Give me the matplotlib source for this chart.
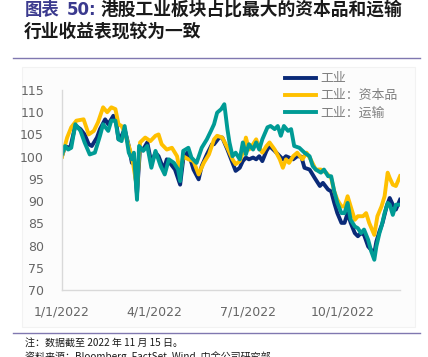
import datetime as dt
import matplotlib
matplotlib.use("Agg")
import matplotlib.pyplot as plt
from matplotlib.patches import Rectangle

plt.rcParams['font.family'] = ['Noto Sans CJK SC', 'DejaVu Sans']

start = dt.date(2022, 1, 1)

# day offsets from 2022-01-01 and index values
days_ind = [0, 3, 8, 13, 18, 22, 26, 29, 34, 37, 42, 45, 50, 53, 55, 58, 61, 65, 68, 70, 73, 76, 79, 83, 87, 91, 94, 99, 102, 105, 110, 115, 118, 122, 125, 128, 133, 136, 141, 146, 148,
            153, 156, 161, 166, 169, 173, 176, 179, 182, 186, 189, 192, 195, 199, 202, 207, 212, 215, 218, 221, 225, 229, 233, 236, 241, 246, 251, 254, 259, 262, 265, 268, 272, 275, 278, 281, 285, 288, 291, 294, 298, 301, 304, 306, 309, 312, 316, 319, 322, 325, 329]
vals_ind = [100.1, 102.3, 102.0, 107.0, 106.2, 105.0, 102.8, 102.4, 104.3, 106.2, 108.4, 107.3, 109.2, 107.3, 103.9, 104.7, 106.2, 102.4, 98.6, 100.1, 91.5, 102.0, 101.6, 103.2, 98.6, 100.9, 100.1, 97.1, 99.4, 98.6, 97.1, 93.7, 99.4, 100.9, 99.4, 97.1, 94.9, 97.9, 100.5, 102.8, 102.8,
            104.3, 104.3, 101.6, 98.6, 96.8, 97.5, 99.0, 99.8, 99.4, 99.8, 99.4, 100.1, 99.0, 101.3, 102.4, 101.3, 100.1, 99.4, 100.1, 99.8, 99.4, 100.1, 100.0, 97.5, 97.1, 95.2, 93.4, 94.1, 92.6, 92.2, 89.6, 87.3, 85.1, 85.1, 87.3, 85.1, 82.8, 82.1, 82.8, 82.4, 79.8, 79.0, 78.3, 80.9, 83.2, 85.1, 88.8, 90.7, 89.2, 88.1, 90.3]

days_cap = [0, 5, 9, 14, 21, 26, 31, 35, 40, 44, 48, 52, 55, 58, 61, 65, 68, 73, 76, 81, 86, 91, 94, 97, 102, 107, 112, 115, 118, 123, 128, 133, 138, 143, 148,
            151, 156, 161, 166, 169, 173, 176, 179, 182, 186, 189, 192, 195, 199, 202, 207, 212, 215, 218, 221, 225, 229, 234, 238, 242, 247, 252, 257, 262, 265, 268, 272, 275, 278, 281, 285, 288, 293, 296, 299, 304, 307, 311, 314, 317, 319, 322, 325, 329]
vals_cap = [100.0, 104.3, 106.6, 108.1, 108.4, 105.0, 105.8, 107.7, 111.1, 110.0, 111.1, 110.7, 107.3, 106.9, 105.4, 102.4, 100.1, 93.0, 103.2, 104.3, 103.5, 104.7, 105.0, 102.8, 101.6, 102.0, 100.1, 96.4, 100.1, 99.4, 99.0, 96.0, 98.6, 100.5, 103.9,
            104.7, 104.3, 102.0, 99.4, 98.3, 99.0, 100.9, 104.3, 101.6, 102.8, 103.9, 102.0, 100.9, 102.4, 103.2, 101.6, 99.4, 97.5, 99.4, 98.6, 100.1, 100.9, 99.4, 100.9, 99.4, 97.1, 97.1, 96.4, 95.2, 92.2, 90.3, 88.8, 88.8, 91.1, 88.8, 85.8, 86.6, 86.6, 87.3, 85.1, 82.4, 86.6, 88.8, 91.1, 96.4, 95.2, 93.7, 93.4, 95.6]

days_trn = [0, 3, 6, 9, 13, 18, 22, 27, 32, 37, 40, 45, 48, 52, 55, 58, 61, 65, 68, 70, 73, 75, 79, 83, 87, 91, 96, 100, 104, 109, 113, 115, 118, 123, 126, 131, 136, 141, 145, 148,
            151, 155, 158, 161, 163, 166, 169, 173, 176, 179, 182, 186, 189, 192, 195, 200, 203, 207, 210, 213, 216, 220, 223, 226, 231, 236, 241, 244, 247, 252, 255, 259, 262, 265, 268, 272, 275, 278, 281, 285, 288, 291, 294, 298, 301, 304, 306, 309, 311, 314, 317, 319, 322, 325, 329]
vals_trn = [100.5, 102.4, 101.6, 102.0, 107.3, 105.8, 103.2, 100.5, 100.9, 104.7, 107.3, 105.8, 108.1, 108.1, 103.9, 103.5, 106.9, 100.9, 99.4, 100.9, 90.3, 102.4, 101.3, 102.4, 97.5, 101.3, 97.9, 96.0, 99.4, 98.6, 97.1, 94.5, 101.3, 102.0, 99.8, 98.6, 102.0, 103.9, 105.8, 107.3,
            109.9, 110.7, 111.8, 106.2, 103.2, 100.1, 100.9, 99.4, 103.2, 100.5, 102.8, 101.6, 103.2, 101.6, 103.9, 106.6, 106.9, 106.2, 106.9, 104.7, 106.9, 105.8, 106.2, 102.4, 102.0, 100.9, 100.1, 97.9, 97.1, 96.4, 97.1, 95.6, 95.6, 92.2, 89.6, 87.3, 87.3, 89.6, 85.8, 84.3, 83.9, 82.8, 83.6, 81.3, 78.7, 76.8, 79.8, 82.8, 84.3, 87.3, 89.6, 89.2, 86.9, 89.2, 89.2]

labels = ['工业', '工业：资本品', '工业：运输']
colors = ['#0a2a78', '#ffc000', '#009b95']

yticks = list(range(70, 116, 5))
xtick_dates = [dt.date(2022, 1, 1), dt.date(2022, 4, 1), dt.date(2022, 7, 1), dt.date(2022, 10, 1)]
xtick_labels = ['1/1/2022', '4/1/2022', '7/1/2022', '10/1/2022']

W, H = 428, 357
fig = plt.figure(figsize=(W / 100, H / 100), dpi=100)

# faint chart-area box
box = Rectangle((22 / W, 1 - 327 / H), (415 - 22) / W, (327 - 67) / H,
                transform=fig.transFigure, facecolor='#fcfcfc', edgecolor='#f2f2f2', lw=0.8, zorder=0)
fig.add_artist(box)

ax = fig.add_axes([62 / W, 1 - 290 / H, (400 - 62) / W, (290 - 90) / H])
ax.set_zorder(2)
ax.set_facecolor('none')

def to_dates(ds):
    return [start + dt.timedelta(days=d) for d in ds]

for ds, vs, lab, c in zip([days_ind, days_cap, days_trn], [vals_ind, vals_cap, vals_trn], labels, colors):
    ax.plot(to_dates(ds), vs, color=c, lw=2.8, label=lab, solid_joinstyle='round')

ax.set_xlim(start, start + dt.timedelta(days=329))
ax.set_ylim(70, 115)
ax.set_yticks(yticks)
ax.set_xticks(xtick_dates)
ax.set_xticklabels(xtick_labels)
for s in ['top', 'right']:
    ax.spines[s].set_visible(False)
for s in ['left', 'bottom']:
    ax.spines[s].set_color('#d9d9d9')
    ax.spines[s].set_linewidth(1.0)
ax.tick_params(length=0, colors='#666666', labelsize=9)
ax.tick_params(axis='y', pad=13)
ax.tick_params(axis='x', pad=11)
for t in ax.get_xticklabels() + ax.get_yticklabels():
    t.set_fontfamily(['DejaVu Sans'])

leg = ax.legend(loc='upper left', bbox_to_anchor=((280 - 62) / (400 - 62), 1.115), frameon=False,
                fontsize=9.3, handlelength=2.4, handletextpad=0.3, labelspacing=0.32, borderaxespad=0)
for t in leg.get_texts():
    t.set_color('#808080')

# title
fig.text(25 / W, 1 - 10 / H, '图表', fontsize=12.5, fontweight='bold', color='#3b3a8e', va='center', ha='left')
fig.text(67 / W, 1 - 10 / H, '50:', fontsize=12, fontweight='bold', color='#3b3a8e', va='center', ha='left',
         family=['DejaVu Sans'])
fig.text(101 / W, 1 - 10 / H, '港股工业板块占比最大的资本品和运输', fontsize=12.8, fontweight='bold', color='#1a1a1a', va='center', ha='left')
fig.text(24 / W, 1 - 32 / H, '行业收益表现较为一致', fontsize=12.8, fontweight='bold', color='#1a1a1a', va='center', ha='left')

# rules
fig.add_artist(plt.Line2D([13 / W, 420 / W], [1 - 58 / H, 1 - 58 / H], color='#8078b0', lw=1.0))
fig.add_artist(plt.Line2D([13 / W, 420 / W], [1 - 333 / H, 1 - 333 / H], color='#8078b0', lw=1.0))

# notes
fig.text(25 / W, 1 - 343 / H, '注：数据截至 2022 年 11 月 15 日。', fontsize=7.2, color='#1a1a1a', va='center', ha='left')
fig.text(25 / W, 1 - 351.5 / H, '资料来源：Bloomberg, FactSet, Wind, 中金公司研究部', fontsize=7.2, color='#1a1a1a', va='top', ha='left')

fig.savefig('out.png', dpi=100)
